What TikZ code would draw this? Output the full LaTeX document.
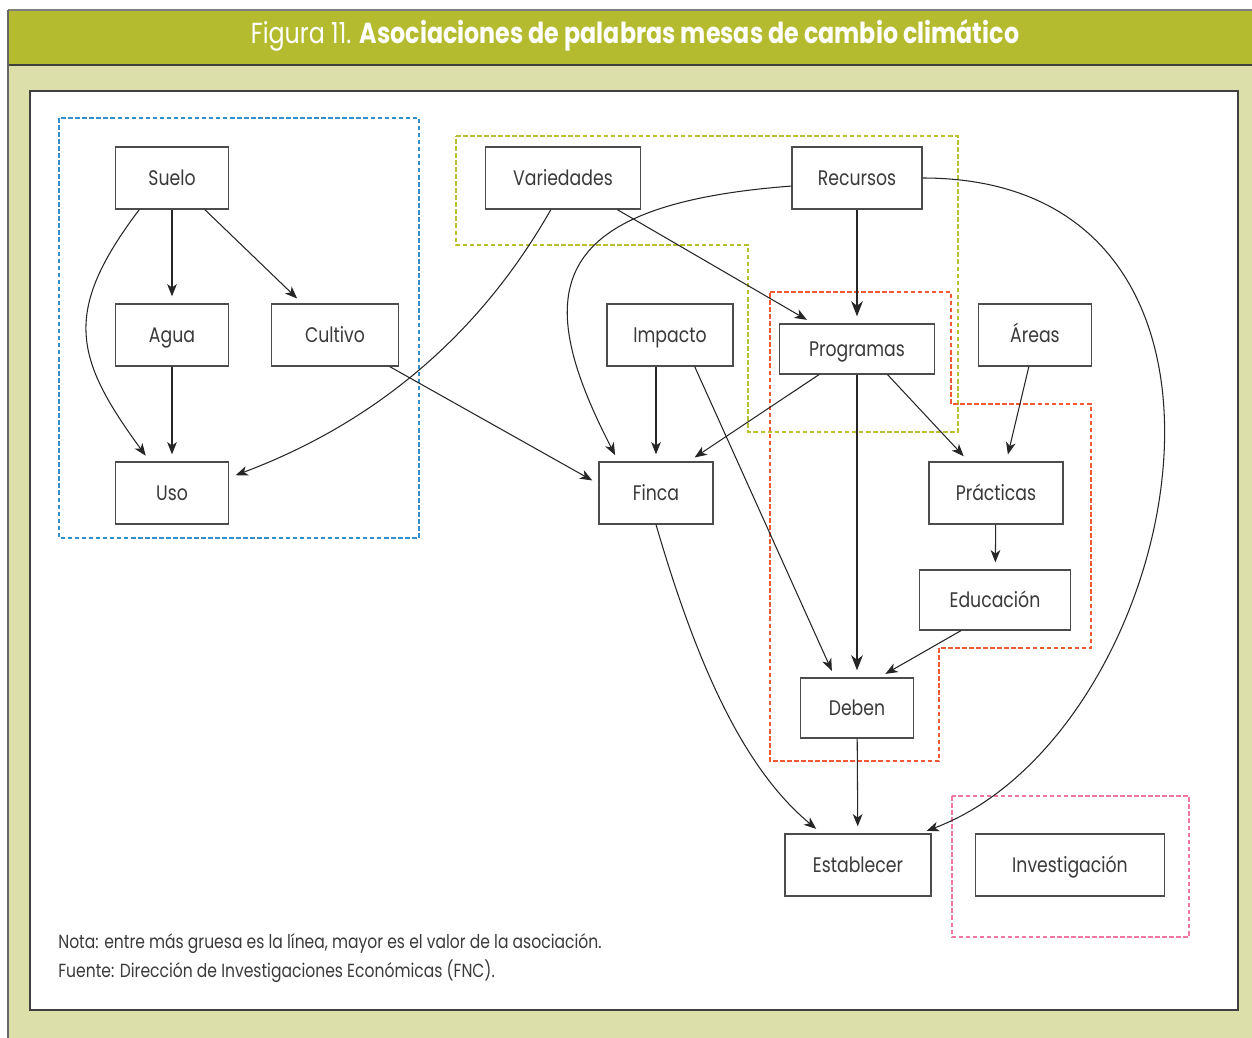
\documentclass[tikz,border=0pt]{standalone}
\usepackage{fontspec}
\setmainfont{Poppins}[FakeStretch=0.82]
\usepackage{xcolor}
\usetikzlibrary{arrows.meta}

\definecolor{barra}{RGB}{181,187,47}
\definecolor{fondo}{RGB}{220,223,170}
\definecolor{texto}{RGB}{58,58,58}
\definecolor{grupoazul}{RGB}{52,142,204}
\definecolor{grupoverde}{RGB}{183,192,46}
\definecolor{grupororojo}{RGB}{240,90,50}
\definecolor{gruporosa}{RGB}{240,120,160}

\tikzset{
    enlace/.style={draw=black!85, line width=0.6pt},
    fuerte/.style={line width=1.7pt, -{Stealth[length=8.5pt,width=6.5pt,inset=2.5pt]}},
    grupo/.style={line width=0.8pt, dash pattern=on 2.6pt off 1.4pt}
}

\begin{document}
\begin{tikzpicture}[x=0.02cm,y=-0.02cm]
                \useasboundingbox (0,0) rectangle (1252,1038);
                % marco y titulo
                \fill[white] (0,0) rectangle (1252,1038);
                \fill[fondo] (8,65) rectangle (1252,1038);
                \fill[barra] (8,10) rectangle (1252,65);
                \draw[black!50, line width=0.6pt] (8,10) -- (1252,10);
                \draw[black!75, line width=0.9pt] (8,65) -- (1252,65);
                \draw[black!60, line width=0.8pt] (8,10) -- (8,1038);
                \node[text=white, font=\fontsize{16.5}{19}\selectfont] (titulo) at (635,35)
                    {Figura 11. \textbf{Asociaciones de palabras mesas de cambio climático}};
                \draw[fill=white, draw=black!75, line width=0.8pt] (30,91) rectangle (1238,1010);
                % grupos
                \begin{scope}[grupo]
                    \draw[grupoazul] (59,118) rectangle (419,538);
                    \draw[grupoverde] (456,136) -- (958,136) -- (958,432) -- (748,432)
                        -- (748,245) -- (456,245) -- cycle;
                    \draw[grupororojo] (770,292) -- (951,292) -- (951,404) -- (1091,404)
                        -- (1091,648) -- (939,648) -- (939,761) -- (770,761) -- cycle;
                    \draw[gruporosa] (952,796) rectangle (1189,937);
                \end{scope}
                \begin{scope}[every node/.style={draw=black!70,line width=0.7pt,text=texto,
                        inner sep=0pt,minimum height=1.24cm,text height=8.9pt,text depth=0pt,
                        font=\fontsize{12}{14}\selectfont}]
                    \node[minimum width=2.26cm] (suelo) at (172,178) {Suelo};
                    \node[minimum width=2.26cm] (agua) at (172,335) {Agua};
                    \node[minimum width=2.54cm] (cultivo) at (335,335) {Cultivo};
                    \node[minimum width=2.26cm] (uso) at (172,493) {Uso};
                    \node[minimum width=3.1cm] (variedades) at (563,178) {Variedades};
                    \node[minimum width=2.6cm] (recursos) at (857,178) {Recursos};
                    \node[minimum width=2.52cm] (impacto) at (670,335) {Impacto};
                    \node[minimum width=3.1cm,minimum height=1cm] (programas) at (857,349) {Programas};
                    \node[minimum width=2.26cm] (areas) at (1035,335) {Áreas};
                    \node[minimum width=2.28cm] (finca) at (656,493) {Finca};
                    \node[minimum width=2.68cm] (practicas) at (996,493) {Prácticas};
                    \node[minimum width=3.02cm,minimum height=1.2cm] (educacion) at (995,600) {Educación};
                    \node[minimum width=2.26cm,minimum height=1.2cm] (deben) at (857,708) {Deben};
                    \node[minimum width=2.92cm] (establecer) at (858,865) {Establecer};
                    \node[minimum width=3.78cm] (investigacion) at (1070,865) {Investigación};
                \end{scope}
                \begin{scope}[>={Stealth[length=7pt,width=5.5pt,inset=2pt]},
                    shorten >=4pt,
                    every edge/.style={enlace}]
                    \path [->] (suelo) edge (agua);
                    \path [->] (suelo) edge (cultivo);
                    \path [->] (agua) edge (uso);
                    \path [->] (variedades) edge (programas);
                    \path [->] (cultivo.-30) edge (finca.171);
                    \path [->] (recursos) edge[fuerte] (programas);
                    \path [->] (finca.north |- impacto.south) edge (finca);
                    \path [->] (impacto.-52) edge (deben.126);
                    \path [->] (programas.-146) edge (finca.44);
                    \path [->] (programas) edge[fuerte] (deben);
                    \path [->] (programas.-40) edge (practicas.131);
                    \path [->] (areas.-101) edge (practicas.72);
                    \path [->] (practicas) edge (educacion);
                    \path [->] (educacion.-138) edge (deben.54);
                    \path [->] (deben) edge (establecer);
                    % curvas
                    \draw [enlace,->] (suelo.-136) .. controls +(-77,102) and +(-76,-104) .. (uso.125);
                    \draw [enlace,->] (variedades.-111) .. controls +(-74,130) and +(141,-53) .. (uso.15);
                    \draw [enlace,->] (recursos.187) .. controls +(-252,19) and +(-85,-165) .. (finca.140);
                    \draw [enlace,->] (recursos.east) .. controls +(375,0) and +(265,-100) .. (establecer.27);
                    \draw [enlace,->] (finca.south) .. controls +(42,144) and +(-77,-64) .. (establecer.139);
                \end{scope}
                % nota
                \begin{scope}[every node/.style={anchor=west,text=texto,inner sep=0pt,
                        font=\fontsize{10.8}{13}\selectfont}]
                    \node (nota) at (58,944) {Nota: entre más gruesa es la línea, mayor es el valor de la asociación.};
                    \node (fuente) at (58,971) {Fuente: Dirección de Investigaciones Económicas (FNC).};
                \end{scope}
            \end{tikzpicture}
\end{document}
